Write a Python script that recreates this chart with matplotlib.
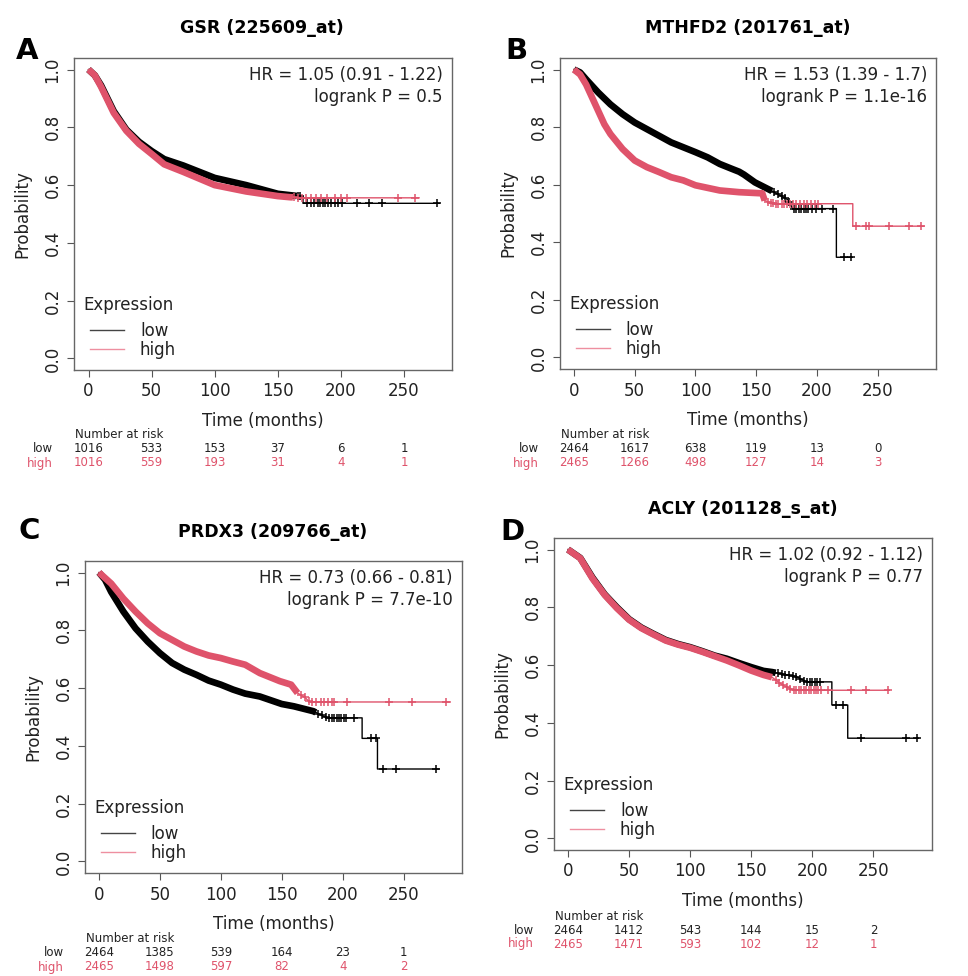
import numpy as np
import matplotlib.pyplot as plt
from matplotlib.lines import Line2D
from matplotlib.transforms import blended_transform_factory

RED = '#DF536B'
BLACK = '#000000'

# ---------------- panel data ----------------
titles = ['GSR (225609_at)', 'MTHFD2 (201761_at)', 'PRDX3 (209766_at)', 'ACLY (201128_s_at)']
letters = ['A', 'B', 'C', 'D']
hr_text = ['HR = 1.05 (0.91 - 1.22)', 'HR = 1.53 (1.39 - 1.7)',
           'HR = 0.73 (0.66 - 0.81)', 'HR = 1.02 (0.92 - 1.12)']
p_text = ['logrank P = 0.5', 'logrank P = 1.1e-16',
          'logrank P = 7.7e-10', 'logrank P = 0.77']

risk_times = [0, 50, 100, 150, 200, 250]
risk_low = [[1016, 533, 153, 37, 6, 1],
            [2464, 1617, 638, 119, 13, 0],
            [2464, 1385, 539, 164, 23, 1],
            [2464, 1412, 543, 144, 15, 2]]
risk_high = [[1016, 559, 193, 31, 4, 1],
             [2465, 1266, 498, 127, 14, 3],
             [2465, 1498, 597, 82, 4, 2],
             [2465, 1471, 593, 102, 12, 1]]

# A  (GSR)
a_low_t = [0, 5, 10, 20, 30, 40, 50, 60, 75, 100, 125, 150, 160, 170, 170, 278]
a_low_s = [1.0, 0.98, 0.945, 0.856, 0.792, 0.75, 0.718, 0.69, 0.668, 0.625, 0.60, 0.57, 0.565,
           0.56, 0.537, 0.537]
a_low_c = [166, 168, 173, 176, 179, 181.5, 183.5, 185.5, 187.5, 189.5, 192, 195, 197.5, 201,
           213, 222.5, 233, 276.5]
a_high_t = [0, 5, 10, 20, 30, 40, 50, 60, 75, 100, 125, 150, 160, 172, 262]
a_high_s = [1.0, 0.98, 0.94, 0.85, 0.788, 0.743, 0.708, 0.672, 0.646, 0.60, 0.578, 0.562, 0.558,
            0.556, 0.556]
a_high_c = [163, 166, 169, 172, 176, 180, 184, 189, 195, 200, 205, 245, 259]

# B  (MTHFD2)
b_low_t = [0, 5, 10, 20, 30, 40, 50, 60, 70, 80, 90, 100, 110, 120, 130, 136, 140, 149, 163,
           176, 180, 216, 216, 229]
b_low_s = [1.0, 0.99, 0.966, 0.92, 0.879, 0.845, 0.816, 0.793, 0.77, 0.747, 0.73, 0.713, 0.695,
           0.672, 0.655, 0.645, 0.635, 0.608, 0.578, 0.548, 0.517, 0.517, 0.348, 0.348]
b_low_c = [165, 168, 171, 174, 177, 181, 183, 185, 187, 189, 191, 193, 196, 199, 204, 213,
           222.6, 228]
b_high_t = [0, 5, 10, 15, 20, 25, 30, 40, 50, 60, 70, 80, 90, 100, 120, 136, 155, 157, 165,
            229.5, 229.5, 288]
b_high_s = [1.0, 0.983, 0.948, 0.902, 0.856, 0.81, 0.776, 0.724, 0.684, 0.661, 0.644, 0.626,
            0.615, 0.598, 0.58, 0.574, 0.57, 0.545, 0.534, 0.534, 0.456, 0.456]
b_high_c = [160, 162, 164, 166, 168, 171, 173, 175, 178, 180, 183, 186, 189, 192, 195, 198, 201,
            232, 240.5, 243, 259.6, 276, 285.7]

# C  (PRDX3)
c_low_t = [0, 5, 10, 20, 30, 40, 50, 60, 70, 80, 90, 100, 110, 120, 132, 150, 160, 176, 187,
           216, 216, 228.6, 228.6, 279]
c_low_s = [1.0, 0.975, 0.933, 0.865, 0.807, 0.761, 0.721, 0.687, 0.664, 0.646, 0.626, 0.612,
           0.595, 0.581, 0.571, 0.545, 0.537, 0.52, 0.497, 0.497, 0.426, 0.426, 0.32, 0.32]
c_low_c = [180, 183, 186, 189, 191, 193, 195, 197, 199, 201, 203, 209.6, 223, 227, 233, 244, 277]
c_high_t = [0, 10, 20, 30, 40, 50, 60, 70, 80, 90, 100, 110, 120, 132, 148.5, 157.7, 163,
            169.6, 172.6, 288.4]
c_high_s = [1.0, 0.962, 0.91, 0.865, 0.824, 0.79, 0.767, 0.744, 0.727, 0.713, 0.704, 0.692,
            0.681, 0.652, 0.624, 0.612, 0.583, 0.566, 0.552, 0.552]
c_high_c = [166, 169, 172, 175, 178, 182, 185, 188, 191, 193, 204, 238, 257, 285]

# D  (ACLY)
d_low_t = [0, 10, 20, 30, 40, 50, 60, 70, 80, 90, 100, 110, 120, 130, 140, 150, 160, 167, 180,
           187, 195, 216, 216, 229, 229, 287]
d_low_s = [1.0, 0.971, 0.903, 0.845, 0.8, 0.759, 0.73, 0.708, 0.687, 0.673, 0.662, 0.648, 0.633,
           0.622, 0.607, 0.593, 0.58, 0.576, 0.565, 0.56, 0.542, 0.542, 0.462, 0.462, 0.347, 0.347]
d_low_c = [172, 175, 178, 181, 184, 187, 190, 193, 196, 198, 200, 202, 204, 206, 219.5, 225,
           239.7, 276.6, 286]
d_high_t = [0, 10, 20, 30, 40, 50, 60, 70, 80, 90, 100, 110, 120, 130, 140, 150, 160, 167, 176,
            185, 263]
d_high_c = [170, 173, 176, 179, 182, 185, 187, 189, 191, 193, 195, 197, 199, 201, 203, 205, 207,
            213, 232, 244, 262]
d_high_s = [1.0, 0.97, 0.9, 0.843, 0.797, 0.757, 0.728, 0.706, 0.685, 0.671, 0.66, 0.646, 0.631,
            0.616, 0.599, 0.581, 0.566, 0.558, 0.53, 0.513, 0.513]

# (times, survival, censor marks, end of the thick, densely censored stretch)
curves = [
    ((a_low_t, a_low_s, a_low_c, 165), (a_high_t, a_high_s, a_high_c, 162)),
    ((b_low_t, b_low_s, b_low_c, 163), (b_high_t, b_high_s, b_high_c, 157)),
    ((c_low_t, c_low_s, c_low_c, 178), (c_high_t, c_high_s, c_high_c, 163)),
    ((d_low_t, d_low_s, d_low_c, 170), (d_high_t, d_high_s, d_high_c, 167)),
]

# ---------------- layout (pixels) ----------------
W, H = 968, 976
boxes = [(74, 452, 58, 370), (560, 936, 58, 369), (85, 462, 561, 873), (554, 932, 538, 850)]
xmax = [288.1, 298, 298, 298]
title_pos = [(262, 28), (748, 28), (273, 532), (743, 509)]
letter_pos = [(27, 51), (516, 51), (29, 531), (512, 532)]
risk_rows = [(435, 449, 463, 53), (435, 449, 463, 539), (938, 952, 967, 64), (916, 930, 944, 534)]

fig = plt.figure(figsize=(W / 100, H / 100), dpi=100)


def fx(x):
    return x / W


def fy(y):
    return 1 - y / H


for i in range(4):
    l, r, t, b = boxes[i]
    ax = fig.add_axes([fx(l), fy(b), (r - l) / W, (b - t) / H])
    ax.set_xlim(-11.5, xmax[i])
    ax.set_ylim(-0.04, 1.04)

    for (ct, cs, cc, dense_end), col in zip(curves[i], [BLACK, RED]):
        ct = np.array(ct, float)
        cs = np.array(cs, float)
        ax.plot(ct, cs, color=col, lw=1.0)
        # densely censored early part looks like a thick band of '+' marks
        m = ct < dense_end
        bt = np.append(ct[m], dense_end)
        bs = np.append(cs[m], np.interp(dense_end, ct, cs))
        ax.plot(bt, bs, color=col, lw=4.8, solid_capstyle='butt')
        cc = np.array(cc, float)
        ax.plot(cc, np.interp(cc, ct, cs), ls='none', marker='+', color=col, ms=6, mew=1.1)

    ax.set_xticks([0, 50, 100, 150, 200, 250])
    ax.set_yticks([0, 0.2, 0.4, 0.6, 0.8, 1.0])
    ax.set_yticklabels(['0.0', '0.2', '0.4', '0.6', '0.8', '1.0'], rotation=90, va='center')
    ax.tick_params(direction='out', length=5, width=0.8, colors='#555555',
                   labelcolor='#222222', labelsize=12, pad=4)
    for s in ax.spines.values():
        s.set_color('#666666')
        s.set_linewidth(1.0)
    ax.set_xlabel('Time (months)', fontsize=12, color='#222222', labelpad=8)
    ax.set_ylabel('Probability', fontsize=12, color='#222222', labelpad=9)

    ax.text(0.976, 0.946, hr_text[i], transform=ax.transAxes, ha='right', va='center',
            fontsize=12, color='#222222')
    ax.text(0.976, 0.875, p_text[i], transform=ax.transAxes, ha='right', va='center',
            fontsize=12, color='#222222')

    ax.text(0.024, 0.208, 'Expression', transform=ax.transAxes, ha='left', va='center',
            fontsize=12, color='#222222')
    handles = [Line2D([], [], color='#444444', lw=1), Line2D([], [], color='#EE8FA0', lw=1)]
    ax.legend(handles, ['low', 'high'], loc='lower left', bbox_to_anchor=(0.042, 0.035),
              frameon=False, fontsize=12, handlelength=2.05, handletextpad=0.95,
              labelspacing=0.05, borderpad=0.0, borderaxespad=0.0, labelcolor='#222222')

    fig.text(fx(title_pos[i][0]), fy(title_pos[i][1]), titles[i], ha='center', va='center',
             fontsize=12.5, fontweight='bold')
    fig.text(fx(letter_pos[i][0]), fy(letter_pos[i][1]), letters[i], ha='center', va='center',
             fontsize=21, fontweight='bold')

    # number at risk table
    y0, y1, y2, xl = risk_rows[i]
    trans = blended_transform_factory(ax.transData, fig.transFigure)
    fig.text(fx(l + 1), fy(y0), 'Number at risk', ha='left', va='center', fontsize=8.5,
             color='#222222')
    fig.text(fx(xl), fy(y1), 'low', ha='right', va='center', fontsize=8.5, color='#222222')
    fig.text(fx(xl), fy(y2), 'high', ha='right', va='center', fontsize=8.5, color=RED)
    for tt, nl, nh in zip(risk_times, risk_low[i], risk_high[i]):
        ax.text(tt, fy(y1), str(nl), transform=trans, ha='center', va='center',
                fontsize=8.5, color='#222222')
        ax.text(tt, fy(y2), str(nh), transform=trans, ha='center', va='center',
                fontsize=8.5, color=RED)

fig.savefig('out.png', dpi=100)
